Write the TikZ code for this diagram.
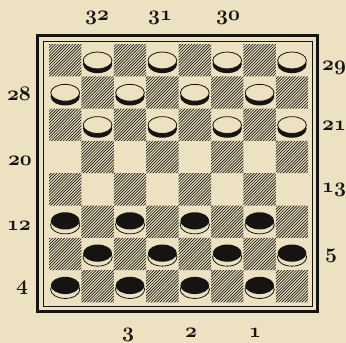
\documentclass[tikz,border=0pt]{standalone}
\usepackage{tikz}
\definecolor{paper}{RGB}{236,226,193}
\definecolor{ink}{RGB}{22,20,18}
\newcommand{\oldnum}[1]{{\usefont{OML}{cmm}{b}{it}#1}}
\tikzset{
  numlabel/.style={anchor=base, text=ink, inner sep=0pt, font=\fontsize{20}{20}\selectfont},
  hatchline/.style={line width=0.68pt, ink},
  manside/.style={ink, line width=0.8pt},
}

\begin{document}
\begin{tikzpicture}[x=1pt, y=-1pt]
    \fill[paper] (0,0) rectangle (346,343);
    \useasboundingbox (0,0) rectangle (346,343);
    \draw[line width=3pt, ink] (37.5,35.5) rectangle (317.5,311);
    \draw[line width=0.8pt, ink] (43,41) rectangle (312,306);
    \begin{scope}
      \clip \foreach \r in {0,...,7} {\foreach \c in {0,2,4,6} {({49+(\c+mod(\r,2))*32.4},{44+\r*32.3}) rectangle ++(32.4,32.3)}};
      \foreach \k in {0,...,185} \draw[hatchline] ({-215+\k*2.9},303) -- ++(262,-262);
    \end{scope}
    \foreach \r/\c in {0/1,0/3,0/5,0/7,1/0,1/2,1/4,1/6,2/1,2/3,2/5,2/7} {
      \fill[ink] ({49+(\c+0.5)*32.4},{44+(\r+0.5)*32.3+4}) ellipse (14.6 and 9);
      \draw[manside, fill=paper] ({49+(\c+0.5)*32.4},{44+(\r+0.5)*32.3+0.3}) ellipse (14.4 and 8.4);
    }
    \foreach \r/\c in {5/0,5/2,5/4,5/6,6/1,6/3,6/5,6/7,7/0,7/2,7/4,7/6} {
      \draw[manside, fill=paper] ({49+(\c+0.5)*32.4},{44+(\r+0.5)*32.3+3.2}) ellipse (14.6 and 9);
      \fill[ink] ({49+(\c+0.5)*32.4},{44+(\r+0.5)*32.3-0.8}) ellipse (14.4 and 8.6);
    }
    \node[numlabel] (n32) at (97,20) {\oldnum{32}};
    \node[numlabel] (n31) at (160,20) {\oldnum{31}};
    \node[numlabel] (n30) at (228,20) {\oldnum{30}};
    \node[numlabel] (n29) at (334,70) {\oldnum{29}};
    \node[numlabel] (n28) at (19,100) {\oldnum{28}};
    \node[numlabel] (n21) at (334,130) {\oldnum{21}};
    \node[numlabel] (n20) at (20,165) {\oldnum{20}};
    \node[numlabel] (n13) at (334,192) {\oldnum{13}};
    \node[numlabel] (n12) at (19,230) {\oldnum{12}};
    \node[numlabel] (n5) at (331,258) {\oldnum{5}};
    \node[numlabel] (n4) at (22,290) {\oldnum{4}};
    \node[numlabel] (n3) at (128,337) {\oldnum{3}};
    \node[numlabel] (n2) at (191,337) {\oldnum{2}};
    \node[numlabel] (n1) at (255,337) {\oldnum{1}};
\end{tikzpicture}
\end{document}
